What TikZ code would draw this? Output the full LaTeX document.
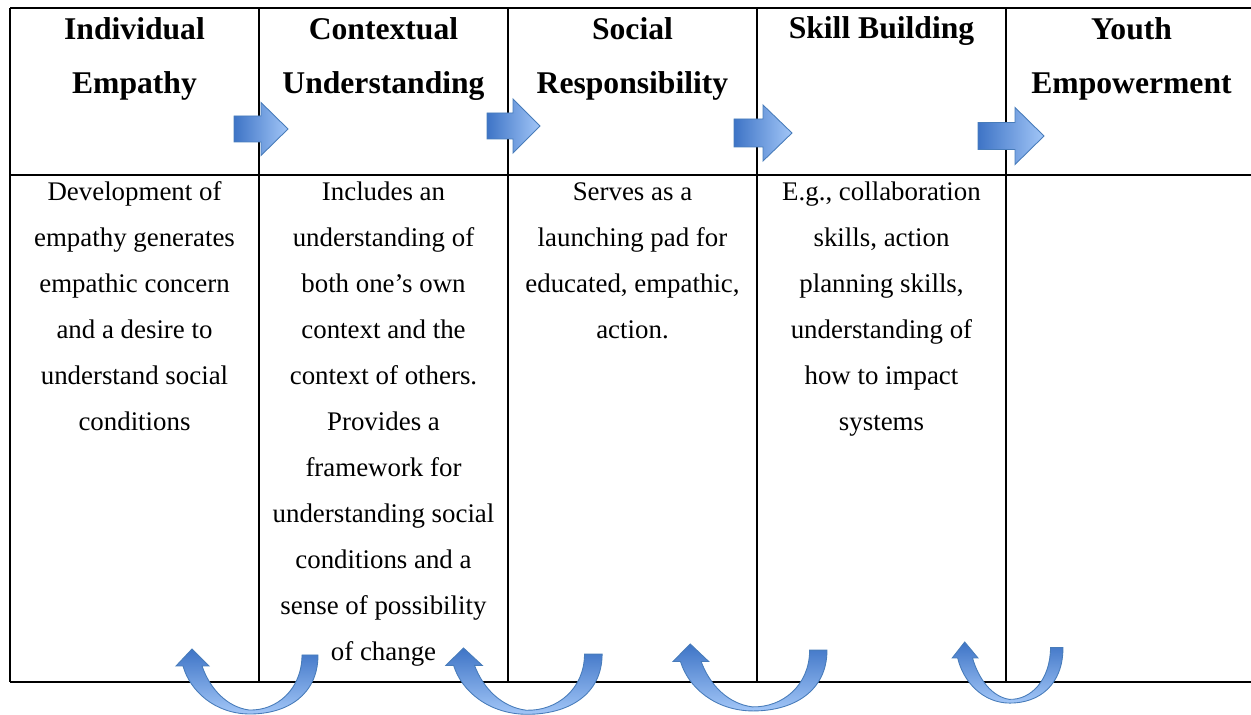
\documentclass[tikz,border=0pt]{standalone}
\usepackage{fontspec}
\setmainfont{Liberation Serif}

\definecolor{arrowdark}{RGB}{62,116,198}
\definecolor{arrowlight}{RGB}{162,198,247}
\definecolor{arrowline}{RGB}{72,124,186}

\tikzset{
  headtext/.style={anchor=base, align=center, inner sep=0pt,
    font=\fontsize{18}{31.3}\selectfont\bfseries},
  celltext/.style={anchor=base, align=center, inner sep=0pt,
    font=\fontsize{15.3}{26.2}\selectfont},
  outerline/.style={line width=1.2pt},
  innerline/.style={line width=0.8pt},
  blockarrow/.style={draw=arrowline, line width=0.5pt, left color=arrowdark, right color=arrowlight},
  turnarrow/.style={draw=arrowline, line width=0.5pt, top color=arrowdark, bottom color=arrowlight},
  uturn/.pic={
    \draw[turnarrow] (141,6) .. controls (141,46) and (110,65) .. (73,65)
      .. controls (38,65) and (13,42) .. (6,17) -- (-1,17) -- (15,0) -- (32,17) -- (25,17)
      .. controls (33,40) and (50,58) .. (72,61)
      .. controls (100,62) and (125,40) .. (125,6) -- cycle;
  }
}

\begin{document}
\begin{tikzpicture}[x=0.02cm, y=-0.02cm]
  \useasboundingbox (0,0) rectangle (1251,715);

  % table
  \draw[outerline] (10,8) -- (1251,8);
  \draw[outerline] (10,175) -- (1251,175);
  \draw[outerline] (10,682) -- (1251,682);
  \draw[outerline] (10,8) -- (10,682);
  \foreach \cx in {259,508,757,1006}
    \draw[innerline] (\cx,8) -- (\cx,682);

  % headings (placed at the baseline of their last line)
  \node[headtext] (head1) at (134.5,94) {Individual\\Empathy};
  \node[headtext] (head2) at (383.5,94) {Contextual\\Understanding};
  \node[headtext] (head3) at (632.5,94) {Social\\Responsibility};
  \node[headtext] (head4) at (881.5,39) {Skill Building};
  \node[headtext] (head5) at (1131.5,94) {Youth\\Empowerment};

  % cells
  \node[celltext] (cell1) at (134.5,431) {Development of\\empathy generates\\empathic concern\\and a desire to\\understand social\\conditions};
  \node[celltext] (cell2) at (383.5,661) {Includes an\\understanding of\\both one’s own\\context and the\\context of others.\\Provides a\\framework for\\understanding social\\conditions and a\\sense of possibility\\of change};
  \node[celltext] (cell3) at (632.5,339) {Serves as a\\launching pad for\\educated, empathic,\\action.};
  \node[celltext] (cell4) at (881.5,431) {E.g., collaboration\\skills, action\\planning skills,\\understanding of\\how to impact\\systems};

  % block arrows
  \foreach \sx/\hx/\tx/\cy/\sw/\hw in {234/261/288/129/13/26.5, 487/513/540/126/13/27,
      734/763/792/133/14/28, 978/1015/1044/136/13.5/28.5}
    \draw[blockarrow] (\sx,\cy-\sw) -- (\hx,\cy-\sw) -- (\hx,\cy-\hw) -- (\tx,\cy)
      -- (\hx,\cy+\hw) -- (\hx,\cy+\sw) -- (\sx,\cy+\sw) -- cycle;

  % turn arrows
  \pic at (177,649) {uturn};
  \pic[xscale=1.1, yscale=1.02] at (447,648) {uturn};
  \pic[xscale=1.085, yscale=1.03] at (674,644) {uturn};
  \pic[xscale=0.78, yscale=0.94] at (953,642) {uturn};
\end{tikzpicture}
\end{document}
